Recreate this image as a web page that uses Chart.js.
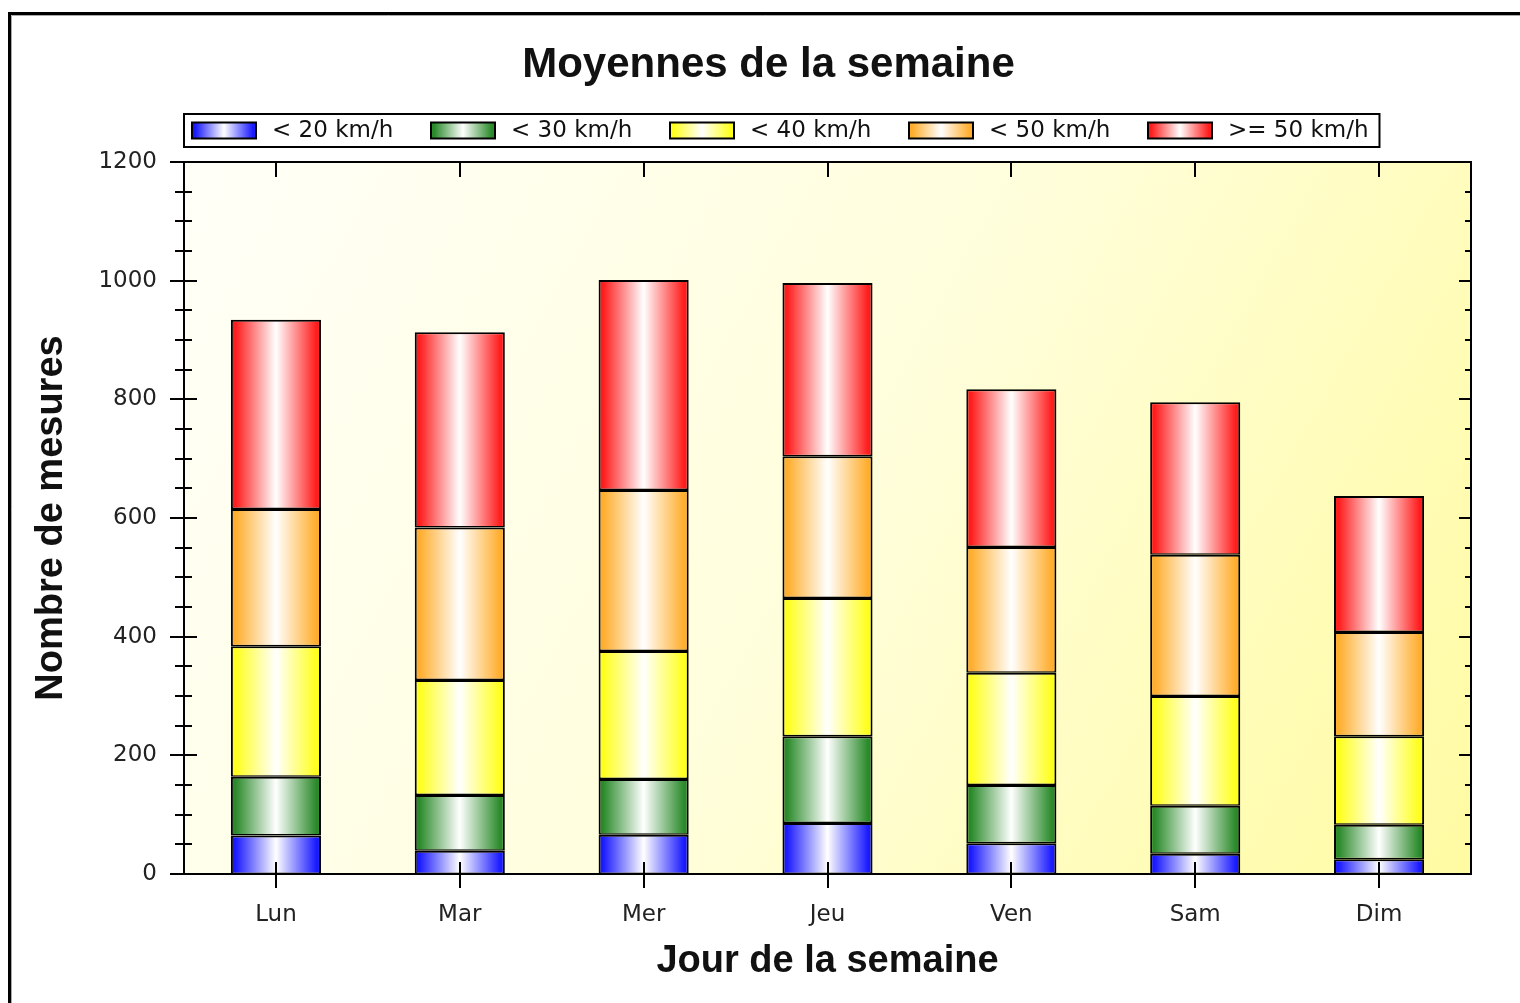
<!DOCTYPE html>
<html>
<head>
<meta charset="utf-8">
<title>Moyennes de la semaine</title>
<script src="https://cdn.jsdelivr.net/npm/chart.js@4.4.1/dist/chart.umd.min.js"></script>
<style>
  html, body { margin: 0; padding: 0; background: #fff; }
  canvas { display: block; }
</style>
</head>
<body>
<canvas id="windChart" width="1520" height="1003"></canvas>
<script>
const days = ['Lun', 'Mar', 'Mer', 'Jeu', 'Ven', 'Sam', 'Dim'];
const speedLabels = ['< 20 km/h', '< 30 km/h', '< 40 km/h', '< 50 km/h', '>= 50 km/h'];
const under20 = [65, 39, 66, 86, 52, 34, 25];
const under30 = [99, 94, 94, 146, 98, 81, 58];
const under40 = [220, 194, 216, 233, 189, 185, 149];
const under50 = [231, 257, 271, 239, 212, 238, 176];
const over50 = [319, 329, 354, 292, 266, 257, 229];
const yMax = 1200;
const yStep = 200;
const yMinorStep = 50;

const speedColors = ['#1a1aff', '#2a8a2a', '#ffff1c', '#ffad2c', '#ff1c1c'];
const barShare = 0.49;
const labelFont = 'DejaVu Sans, Verdana, sans-serif';
const boldFont = 'Liberation Sans, Arial, sans-serif';

function hGradient(ctx, left, right, color) {
    const g = ctx.createLinearGradient(left, 0, right, 0);
    g.addColorStop(0, color);
    g.addColorStop(0.05, color);
    g.addColorStop(0.5, '#ffffff');
    g.addColorStop(0.95, color);
    g.addColorStop(1, color);
    return g;
}

// dégradé horizontal par barre, calculé depuis l'échelle x
function shadeBar(color) {
    return function(c) {
        const xs = c.chart.scales.x;
        if (!xs || !xs.width || c.dataIndex === undefined) return color;
        const center = xs.getPixelForValue(c.dataIndex);
        const half = xs.width / days.length * barShare / 2;
        return hGradient(c.chart.ctx, center - half, center + half, color);
    };
}

const seriesValues = [under20, under30, under40, under50, over50];

const datasets = seriesValues.map((values, i) => ({
    label: speedLabels[i],
    data: values,
    backgroundColor: shadeBar(speedColors[i]),
    borderColor: '#000',
    borderWidth: { top: 2, bottom: 1.5, left: 2, right: 2 },
    borderSkipped: false,
    barPercentage: barShare,
    categoryPercentage: 1
}));

// fond du graphique + cadre extérieur
const backdrop = {
    id: 'backdrop',
    beforeDraw(chart) {
        const { ctx, chartArea: a } = chart;
        ctx.save();
        ctx.fillStyle = '#fff';
        ctx.fillRect(0, 0, chart.width, chart.height);
        ctx.strokeStyle = '#000';
        ctx.lineWidth = 3;
        ctx.beginPath();
        ctx.moveTo(9.5, chart.height);
        ctx.lineTo(9.5, 13.5);
        ctx.lineTo(chart.width, 13.5);
        ctx.stroke();
        ctx.strokeStyle = '#aaa';
        ctx.lineWidth = 1;
        ctx.beginPath();
        ctx.moveTo(11.5, chart.height);
        ctx.lineTo(11.5, 15.5);
        ctx.lineTo(chart.width, 15.5);
        ctx.stroke();

        const bg = ctx.createLinearGradient(a.left, a.top, a.right, a.bottom);
        bg.addColorStop(0, '#fffff8');
        bg.addColorStop(0.5, '#fffedc');
        bg.addColorStop(1, '#fffba2');
        ctx.fillStyle = bg;
        ctx.fillRect(a.left, a.top, a.right - a.left, a.bottom - a.top);
        ctx.restore();
    }
};

// cadre du tracé et graduations
const frameTicks = {
    id: 'frameTicks',
    afterDatasetsDraw(chart) {
        const { ctx, chartArea: a, scales: { x, y } } = chart;
        ctx.save();
        ctx.strokeStyle = '#000';
        ctx.lineWidth = 2;
        ctx.strokeRect(a.left, a.top, a.right - a.left, a.bottom - a.top);
        ctx.beginPath();
        for (let v = 0; v <= yMax; v += yMinorStep) {
            const py = Math.round(y.getPixelForValue(v));
            const major = v % yStep === 0;
            ctx.moveTo(a.left - (major ? 14 : 9), py);
            ctx.lineTo(a.left + (major ? 13 : 8), py);
            ctx.moveTo(a.right - (major ? 12 : 6), py);
            ctx.lineTo(a.right, py);
        }
        days.forEach((d, i) => {
            const px = Math.round(x.getPixelForValue(i));
            ctx.moveTo(px, a.bottom - 12);
            ctx.lineTo(px, a.bottom + 14);
            ctx.moveTo(px, a.top);
            ctx.lineTo(px, a.top + 15);
        });
        ctx.stroke();
        ctx.restore();
    }
};

// légende encadrée avec pastilles en dégradé
const boxedLegend = {
    id: 'boxedLegend',
    afterDraw(chart) {
        const { ctx, chartArea: a } = chart;
        const step = 239;
        const boxW = 64, boxH = 16;
        const top = a.top - 48, bottom = a.top - 15;
        const midY = (top + bottom) / 2;
        ctx.save();
        ctx.font = '23px ' + labelFont;
        ctx.textBaseline = 'middle';
        ctx.textAlign = 'left';
        let right = a.left;
        chart.data.datasets.forEach((ds, i) => {
            const bx = a.left + 8 + i * step;
            ctx.fillStyle = hGradient(ctx, bx, bx + boxW, speedColors[i]);
            ctx.fillRect(bx, midY - boxH / 2, boxW, boxH);
            ctx.strokeStyle = '#000';
            ctx.lineWidth = 2;
            ctx.strokeRect(bx, midY - boxH / 2, boxW, boxH);
            ctx.fillStyle = '#111';
            const tx = bx + boxW + 16;
            ctx.fillText(ds.label, tx, midY + 1);
            right = tx + ctx.measureText(ds.label).width + 11;
        });
        ctx.lineWidth = 2;
        ctx.strokeRect(a.left, top, right - a.left, bottom - top);
        ctx.restore();
    }
};

const ctx = document.getElementById('windChart').getContext('2d');
new Chart(ctx, {
    type: 'bar',
    data: {
        labels: days,
        datasets: datasets
    },
    options: {
        responsive: false,
        animation: false,
        devicePixelRatio: 1,
        layout: {
            padding: { left: 66, right: 49, top: 0, bottom: 0 }
        },
        scales: {
            x: {
                stacked: true,
                grid: { display: false, drawTicks: false },
                border: { display: false },
                ticks: {
                    color: '#222',
                    padding: 27,
                    font: { family: labelFont, size: 23 }
                },
                title: {
                    display: true,
                    text: 'Jour de la semaine',
                    color: '#111',
                    padding: { top: 0, bottom: 19 },
                    font: { family: boldFont, size: 38, weight: 'bold' }
                },
                afterFit(scale) { scale.height = 129; }
            },
            y: {
                stacked: true,
                min: 0,
                max: yMax,
                grid: { display: false, drawTicks: false },
                border: { display: false },
                ticks: {
                    stepSize: yStep,
                    color: '#222',
                    padding: 27,
                    font: { family: labelFont, size: 23 },
                    callback: (v) => String(v)
                },
                title: {
                    display: true,
                    text: 'Nombre de mesures',
                    color: '#111',
                    padding: { top: -37, bottom: 0 },
                    font: { family: boldFont, size: 38, weight: 'bold' }
                },
                afterFit(scale) { scale.width = 118; }
            }
        },
        plugins: {
            legend: { display: false },
            tooltip: { enabled: false },
            title: {
                display: true,
                text: 'Moyennes de la semaine',
                color: '#111',
                padding: { top: 40, bottom: 71.6 },
                font: { family: boldFont, size: 42, weight: 'bold' }
            }
        }
    },
    plugins: [backdrop, frameTicks, boxedLegend]
});
</script>
</body>
</html>
